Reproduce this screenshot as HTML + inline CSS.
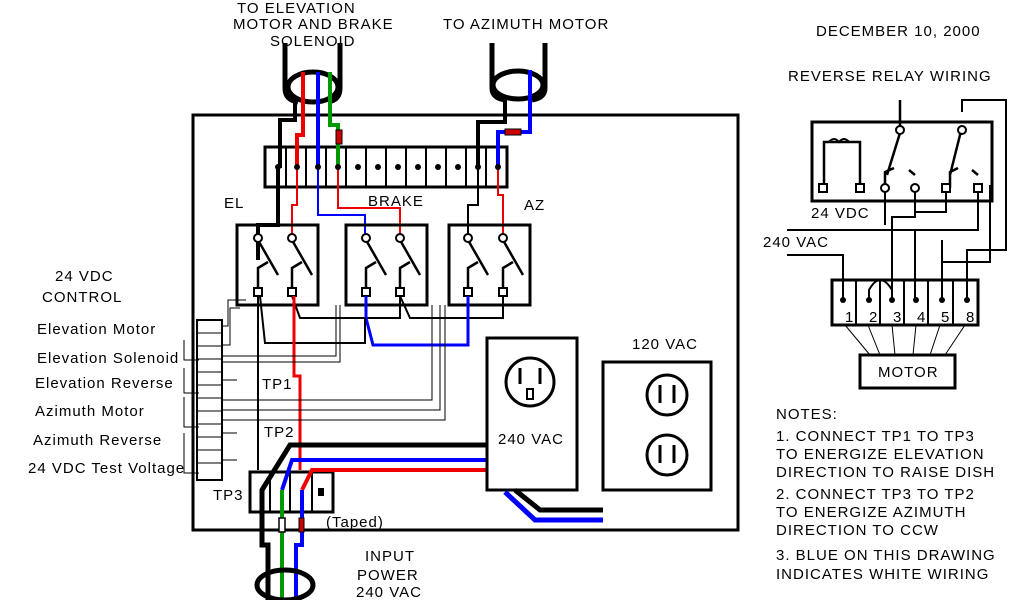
<!DOCTYPE html>
<html><head><style>body{margin:0;background:#fff}svg{display:block}text{font-family:"Liberation Sans",sans-serif;font-size:15px;letter-spacing:1px;fill:#000}</style></head><body>
<svg width="1024" height="600" viewBox="0 0 1024 600">
<g fill="none" stroke-linejoin="miter">
<!-- cable rings top -->
<path d="M285 43 V88 Q285 100 298 102 M340 43 V88 Q340 100 328 102" stroke="#000" stroke-width="5"/>
<ellipse cx="313" cy="87" rx="25" ry="15" stroke="#000" stroke-width="5"/>
<path d="M492 43 V88 Q492 98 505 100 M545 43 V88 Q545 98 532 100" stroke="#000" stroke-width="5"/>
<ellipse cx="518" cy="85" rx="25" ry="14" stroke="#000" stroke-width="5"/>
<!-- main box -->
<rect x="193" y="115" width="545" height="415" stroke="#000" stroke-width="3"/>
<!-- terminal strip -->
<rect x="265" y="147" width="242" height="40" stroke="#000" stroke-width="3"/>
<path d="M286 147v40M306 147v40M326 147v40M346 147v40M366 147v40M386 147v40M406 147v40M426 147v40M446 147v40M466 147v40M486 147v40" stroke="#000" stroke-width="2"/>
<!-- wires from top -->
<path d="M295 100 V120 H280 V168 M278 168 V200 H278 V225 H258 V260" stroke="#000" stroke-width="4"/>
<path d="M303 72 V135 H297 V168" stroke="#e00" stroke-width="4"/>
<path d="M297 168 V205 H292 V240" stroke="#e00" stroke-width="2"/>
<path d="M318 72 V168" stroke="#00f" stroke-width="4"/>
<path d="M318 168 V215 H365 V240" stroke="#00f" stroke-width="2"/>
<path d="M330 72 V125 H338 V168" stroke="#090" stroke-width="4"/>
<rect x="336" y="130" width="6" height="14" fill="#c00" stroke="#000" stroke-width="1"/>
<path d="M338 168 V208 H400 V240" stroke="#e00" stroke-width="2"/>
<path d="M505 98 V122 H478 V168" stroke="#000" stroke-width="4"/>
<path d="M478 168 V205 H468 V240" stroke="#000" stroke-width="2"/>
<path d="M530 70 V132 H498 V168" stroke="#00f" stroke-width="4"/>
<rect x="505" y="129" width="16" height="6" fill="#c00" stroke="#000" stroke-width="1"/>
<path d="M498 168 V195 H503 V240" stroke="#e00" stroke-width="2"/>
<!-- relays -->
<rect x="237" y="225" width="81" height="80" stroke="#000" stroke-width="3"/>
<rect x="346" y="225" width="81" height="80" stroke="#000" stroke-width="3"/>
<rect x="449" y="225" width="81" height="80" stroke="#000" stroke-width="3"/>
<g stroke="#000" stroke-width="2.5">
<path d="M258 240 L278 275 M292 240 L312 275 M366 240 L386 275 M400 240 L420 275 M468 240 L488 275 M503 240 L523 275"/>
<path d="M258 292 V268 L268 262 M292 292 V268 L302 262 M366 292 V268 L376 262 M400 292 V268 L410 262 M468 292 V268 L478 262 M503 292 V268 L513 262"/>
</g>
<g fill="#fff" stroke="#000" stroke-width="2">
<circle cx="258" cy="238" r="4"/><circle cx="292" cy="238" r="4"/><circle cx="366" cy="238" r="4"/><circle cx="400" cy="238" r="4"/><circle cx="468" cy="238" r="4"/><circle cx="503" cy="238" r="4"/>
<rect x="254" y="288" width="8" height="8"/><rect x="288" y="288" width="8" height="8"/><rect x="362" y="288" width="8" height="8"/><rect x="396" y="288" width="8" height="8"/><rect x="464" y="288" width="8" height="8"/><rect x="499" y="288" width="8" height="8"/>
</g>
<g fill="#000"><circle cx="297" cy="167" r="3"/><circle cx="318" cy="167" r="3"/><circle cx="338" cy="167" r="3"/><circle cx="278" cy="167" r="3"/><circle cx="358" cy="167" r="3"/><circle cx="378" cy="167" r="3"/><circle cx="398" cy="167" r="3"/><circle cx="418" cy="167" r="3"/><circle cx="438" cy="167" r="3"/><circle cx="458" cy="167" r="3"/><circle cx="478" cy="167" r="3"/><circle cx="498" cy="167" r="3"/></g>
<!-- lower relay wiring -->
<path d="M292 296 L300 318 H400 V296 M400 296 L410 318 H503 V296" stroke="#000" stroke-width="2"/>
<path d="M366 296 V318 L373 345 H468 V296" stroke="#00f" stroke-width="3"/>
<path d="M260 296 L265 343 H365 V318" stroke="#000" stroke-width="2"/>
<path d="M258 296 V395 M258 395 V470" stroke="#000" stroke-width="2"/>
<path d="M294 296 V376 H300 V470" stroke="#e00" stroke-width="3"/>
<!-- thin control wires -->
<g stroke="#000" stroke-width="1">
<path d="M222 326 H228 V300 H246 M222 345 H230 V308 H240"/>
<path d="M222 356 H336 V305 M222 362 H340 V305"/>
<path d="M222 400 H432 V305 M222 410 H440 V305"/>
<path d="M222 420 H445 V305"/>
</g>
<!-- left terminal block -->
<rect x="197" y="320" width="25" height="160" stroke="#000" stroke-width="2"/>
<path d="M197 333h25M197 346h25M197 359h25M197 372h25M197 385h25M197 398h25M197 411h25M197 424h25M197 437h25M197 450h25M197 463h25" stroke="#000" stroke-width="1"/>
<path d="M222 380h15M222 433h15M222 460h15M184 340v20h15M184 368v25h15M184 397v30h15M184 433v40h15" stroke="#000" stroke-width="1"/>
<!-- TP3 block -->
<rect x="250" y="472" width="83" height="40" stroke="#000" stroke-width="3"/>
<path d="M270 472v40M290 472v40M312 472v40" stroke="#000" stroke-width="2"/>
<rect x="318" y="488" width="6" height="8" fill="#000"/>
<!-- power wires -->
<path d="M487 445 H290 L262 490 V545 H268 V600" stroke="#000" stroke-width="5"/>
<path d="M487 460 H292 L282 490" stroke="#00f" stroke-width="4"/>
<path d="M487 470 H312 L302 490" stroke="#e00" stroke-width="4"/>
<path d="M282 490 V600" stroke="#090" stroke-width="4"/>
<path d="M302 490 V545 H296 V600" stroke="#00f" stroke-width="4"/>
<rect x="279" y="518" width="6" height="14" fill="#fff" stroke="#000" stroke-width="1.5"/>
<rect x="299" y="518" width="5" height="14" fill="#c00" stroke="#000" stroke-width="1"/>
<ellipse cx="285" cy="585" rx="28" ry="15" stroke="#000" stroke-width="5"/>
<!-- outlets -->
<rect x="487" y="338" width="90" height="152" stroke="#000" stroke-width="3"/>
<circle cx="530" cy="382" r="24" stroke="#000" stroke-width="3"/>
<path d="M520 368v16M540 368v16" stroke="#000" stroke-width="3"/>
<rect x="527" y="389" width="6" height="10" stroke="#000" stroke-width="2"/>
<rect x="603" y="362" width="108" height="128" stroke="#000" stroke-width="3"/>
<circle cx="667" cy="395" r="20" stroke="#000" stroke-width="3"/>
<circle cx="667" cy="455" r="20" stroke="#000" stroke-width="3"/>
<path d="M660 385v18M674 385v18M660 445v18M674 445v18" stroke="#000" stroke-width="3"/>
<path d="M515 490 L540 510 H603" stroke="#000" stroke-width="5"/>
<path d="M505 492 L535 520 H603" stroke="#00f" stroke-width="5"/>
<!-- right relay -->
<rect x="812" y="122" width="180" height="79" stroke="#000" stroke-width="3"/>
<path d="M824 186 V142 H860 V186" stroke="#000" stroke-width="2.5"/>
<path d="M829 142 q5 -6 10 0 q5 -6 10 0" stroke="#000" stroke-width="2"/>
<path d="M900 100 V127 M900 133 L887 175 M962 127 L950 175 M885 188 V172 L894 168 M950 188 V172 L958 168 M915 175 l-6 -5 M978 175 l-6 -5" stroke="#000" stroke-width="2.5"/>
<path d="M962 112 V100 H1006 V250 H967 V298" stroke="#000" stroke-width="2"/>
<path d="M885 188 V225 M915 188 V217 H892 V298 M946 188 V212 H915 V217 M978 188 V230 H787 M942 240 V298 M915 230 V298" stroke="#000" stroke-width="2"/>
<path d="M787 255 H843 V298" stroke="#000" stroke-width="2"/>
<path d="M869 298 V290 Q880 270 892 290" stroke="#000" stroke-width="2"/>
<path d="M990 185 V262 H942 V250" stroke="#000" stroke-width="2"/>
<g fill="#fff" stroke="#000" stroke-width="2">
<circle cx="900" cy="130" r="4"/><circle cx="962" cy="130" r="4"/>
<rect x="819" y="184" width="8" height="8"/><rect x="856" y="184" width="8" height="8"/><circle cx="885" cy="188" r="4"/><circle cx="915" cy="188" r="4"/><rect x="942" y="184" width="8" height="8"/><rect x="974" y="184" width="8" height="8"/>
</g>
<rect x="832" y="280" width="146" height="45" stroke="#000" stroke-width="3"/>
<path d="M856 280v45M880 280v45M904 280v45M928 280v45M953 280v45" stroke="#000" stroke-width="2"/>
<path d="M845 325 L870 355 M868 325 L880 355 M892 325 L895 355 M916 325 L913 355 M940 325 L930 355 M965 325 L945 355" stroke="#000" stroke-width="1"/>
<rect x="860" y="355" width="95" height="33" stroke="#000" stroke-width="3"/>
</g>
<g fill="#000"><circle cx="843" cy="300" r="3"/><circle cx="869" cy="300" r="3"/><circle cx="892" cy="300" r="3"/><circle cx="916" cy="300" r="3"/><circle cx="942" cy="300" r="3"/><circle cx="967" cy="300" r="3"/></g>
<text x="237" y="13">TO ELEVATION</text>
<text x="233" y="29">MOTOR AND BRAKE</text>
<text x="270" y="46">SOLENOID</text>
<text x="443" y="29">TO AZIMUTH MOTOR</text>
<text x="816" y="36" font-size="14">DECEMBER 10, 2000</text>
<text x="788" y="81" font-size="14">REVERSE RELAY WIRING</text>
<text x="224" y="208">EL</text>
<text x="368" y="206">BRAKE</text>
<text x="524" y="210">AZ</text>
<text x="55" y="281">24 VDC</text>
<text x="42" y="302">CONTROL</text>
<text x="37" y="334">Elevation Motor</text>
<text x="37" y="363">Elevation Solenoid</text>
<text x="35" y="388">Elevation Reverse</text>
<text x="35" y="416">Azimuth Motor</text>
<text x="33" y="445">Azimuth Reverse</text>
<text x="28" y="473">24 VDC Test Voltage</text>
<text x="262" y="389">TP1</text>
<text x="264" y="437">TP2</text>
<text x="213" y="500">TP3</text>
<text x="326" y="527">(Taped)</text>
<text x="365" y="561">INPUT</text>
<text x="357" y="580">POWER</text>
<text x="356" y="597">240 VAC</text>
<text x="498" y="444">240 VAC</text>
<text x="632" y="349">120 VAC</text>
<text x="811" y="218">24 VDC</text>
<text x="763" y="247">240 VAC</text>
<g font-size="14" letter-spacing="0"><text x="845" y="322">1</text><text x="869" y="322">2</text><text x="893" y="322">3</text><text x="917" y="322">4</text><text x="941" y="322">5</text><text x="966" y="322">8</text></g>
<text x="878" y="377">MOTOR</text>
<text x="776" y="419">NOTES:</text>
<text x="776" y="441">1.  CONNECT TP1 TO TP3</text>
<text x="776" y="459">TO ENERGIZE ELEVATION</text>
<text x="776" y="477">DIRECTION TO RAISE DISH</text>
<text x="776" y="499">2.  CONNECT TP3 TO TP2</text>
<text x="776" y="517">TO ENERGIZE AZIMUTH</text>
<text x="776" y="535">DIRECTION TO CCW</text>
<text x="776" y="560">3. BLUE ON THIS DRAWING</text>
<text x="776" y="579">INDICATES WHITE WIRING</text>
</svg>
</body></html>
